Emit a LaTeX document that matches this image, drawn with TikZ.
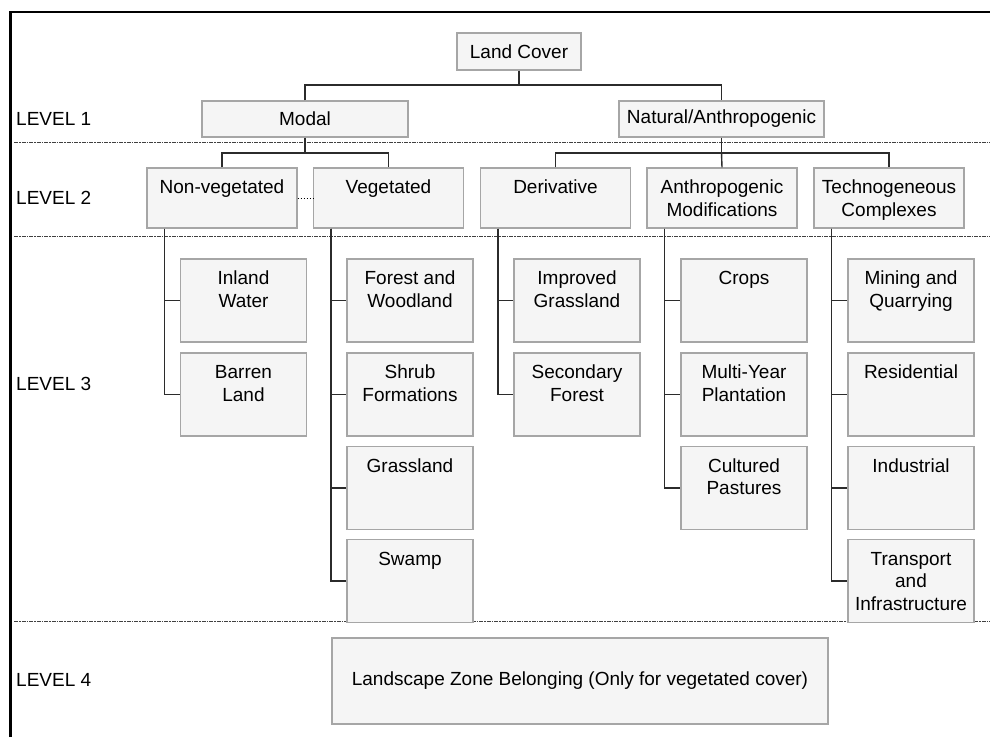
\documentclass[tikz,border=0pt]{standalone}
\usepackage{fontspec}
\setmainfont{Liberation Sans}
\definecolor{boxfill}{HTML}{F5F5F5}
\definecolor{boxline}{HTML}{A6A6A6}
\definecolor{connc}{HTML}{2B2B2B}
\newcommand{\tbox}[3]{\parbox[c][#2][t]{#1}{\centering\rule{0pt}{25.5pt}#3}}
\tikzset{
  box/.style={draw=boxline, fill=boxfill, line width=1.1pt, inner sep=0pt},
  cbox/.style={box, minimum height=36pt},
  conn/.style={draw=connc, line width=1.4pt},
  levelline/.style={draw=black!75, line width=0.8pt, dash pattern=on 4pt off 1pt on 1.5pt off 1pt},
  lvl/.style={anchor=west, inner sep=0pt},
}
\begin{document}
\begin{tikzpicture}[x=1pt,y=-1pt]
\fontsize{19}{22.8}\selectfont
\useasboundingbox (0,0) rectangle (990,737);
% frame
\draw[line width=2.5pt] (10.5,737) -- (10.5,12) -- (990,12);
% level lines
\coordinate (l1a) at (14,142); \coordinate (l1b) at (990,142);
\coordinate (l2a) at (14,236); \coordinate (l2b) at (990,236);
\coordinate (l3a) at (14,621); \coordinate (l3b) at (990,621);
\draw[levelline] (l1a) -- (l1b);
\draw[levelline] (l2a) -- (l2b);
\draw[levelline] (l3a) -- (l3b);
% level labels
\node[lvl] (lv1) at (16,119) {LEVEL 1};
\node[lvl] (lv2) at (16,198) {LEVEL 2};
\node[lvl] (lv3) at (16,384) {LEVEL 3};
\node[lvl] (lv4) at (16,680) {LEVEL 4};
% level 0/1
\node[cbox, minimum width=124pt, minimum height=37pt] (lc) at (519,51.5) {Land Cover};
\node[cbox, minimum width=206pt] (modal) at (305,119) {Modal};
\node[cbox, minimum width=205pt] (nat) at (721.5,119) {Natural/Anthropogenic};
% level 2
\node[box] (nonveg) at (222,198) {\tbox{150pt}{60pt}{Non-vegetated}};
\node[box] (veg) at (388.5,198) {\tbox{150pt}{60pt}{Vegetated}};
\node[box] (deriv) at (555.5,198) {\tbox{150pt}{60pt}{Derivative}};
\node[box] (anthro) at (722,198) {\tbox{150pt}{60pt}{Anthropogenic\\Modifications}};
\node[box] (tech) at (889,198) {\tbox{150pt}{60pt}{Technogeneous\\Complexes}};
% level 3
\node[box] (iw) at (243.5,300.5) {\tbox{126pt}{83pt}{Inland\\Water}};
\node[box] (bl) at (243.5,394.5) {\tbox{126pt}{83pt}{Barren\\Land}};
\node[box] (fw) at (410,300.5) {\tbox{126pt}{83pt}{Forest and\\Woodland}};
\node[box] (sf) at (410,394.5) {\tbox{126pt}{83pt}{Shrub\\Formations}};
\node[box] (gl) at (410,488) {\tbox{126pt}{83pt}{Grassland}};
\node[box] (sw) at (410,581) {\tbox{126pt}{83pt}{Swamp}};
\node[box] (ig) at (577,300.5) {\tbox{126pt}{83pt}{Improved\\Grassland}};
\node[box] (sec) at (577,394.5) {\tbox{126pt}{83pt}{Secondary\\Forest}};
\node[box] (cr) at (744,300.5) {\tbox{126pt}{83pt}{Crops}};
\node[box] (my) at (744,394.5) {\tbox{126pt}{83pt}{Multi-Year\\Plantation}};
\node[box] (cp) at (744,488) {\tbox{126pt}{83pt}{Cultured\\Pastures}};
\node[box] (mq) at (911,300.5) {\tbox{126pt}{83pt}{Mining and\\Quarrying}};
\node[box] (res) at (911,394.5) {\tbox{126pt}{83pt}{Residential}};
\node[box] (ind) at (911,488) {\tbox{126pt}{83pt}{Industrial}};
\node[box] (tr) at (911,581) {\tbox{126pt}{83pt}{Transport\\and\\Infrastructure}};
% level 4
\node[cbox, minimum width=496pt, minimum height=86pt] (lz) at (580,681) {Landscape Zone Belonging (Only for vegetated cover)};
% connectors level 0-1
\coordinate (b1) at (519,85);
\draw[conn] (lc.south) -- (b1);
\draw[conn] (modal.north) |- (b1) -| (nat.north);
% level 1-2
\coordinate (b2) at (305,153);
\draw[conn] (modal.south) -- (b2);
\draw[conn] (nonveg.north) |- (b2) -| (veg.north);
\coordinate (b3) at (721.5,153);
\draw[conn] (nat.south) -- (b3);
\draw[conn] (deriv.north) |- (b3) -| (tech.north);
\draw[conn] (b3) -- (anthro.north);
\draw[dotted, line width=1pt] (nonveg.east) -- (veg.west);
% level 2-3
\draw[conn] ([xshift=18pt]nonveg.south west) |- (bl.west);
\draw[conn] ([xshift=18pt]nonveg.south west) |- (iw.west);
\draw[conn] ([xshift=18pt]veg.south west) |- (sw.west);
\draw[conn] ([xshift=18pt]veg.south west) |- (fw.west);
\draw[conn] ([xshift=18pt]veg.south west) |- (sf.west);
\draw[conn] ([xshift=18pt]veg.south west) |- (gl.west);
\draw[conn] ([xshift=18pt]deriv.south west) |- (sec.west);
\draw[conn] ([xshift=18pt]deriv.south west) |- (ig.west);
\draw[conn] ([xshift=18pt]anthro.south west) |- (cp.west);
\draw[conn] ([xshift=18pt]anthro.south west) |- (cr.west);
\draw[conn] ([xshift=18pt]anthro.south west) |- (my.west);
\draw[conn] ([xshift=18pt]tech.south west) |- (tr.west);
\draw[conn] ([xshift=18pt]tech.south west) |- (mq.west);
\draw[conn] ([xshift=18pt]tech.south west) |- (res.west);
\draw[conn] ([xshift=18pt]tech.south west) |- (ind.west);
\end{tikzpicture}
\end{document}
